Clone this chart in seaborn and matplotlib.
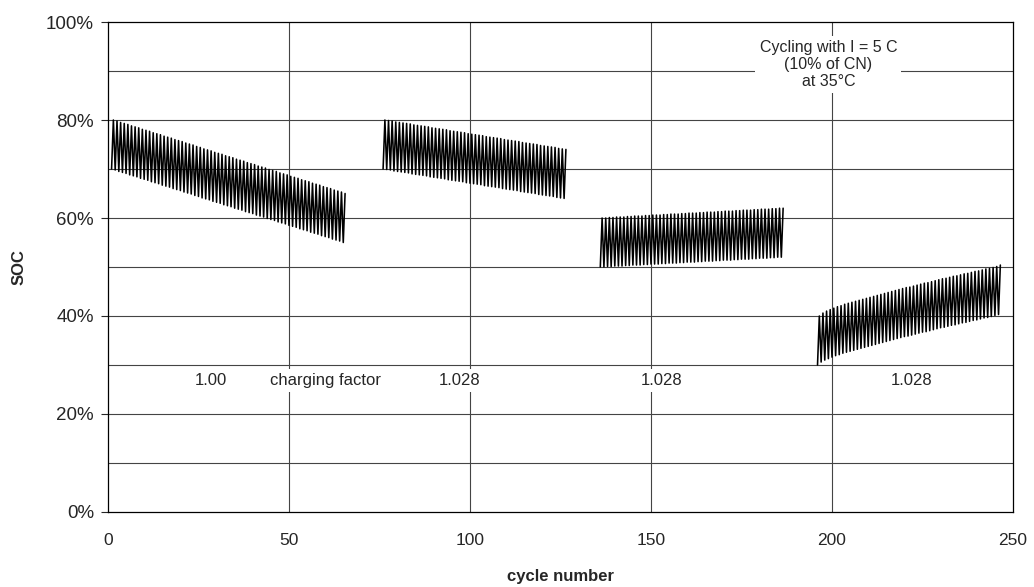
import pandas as pd
import matplotlib.pyplot as plt
import seaborn as sns

# --- data (SOC in %, one low/high pair per cycle) ---
seg1_start = 1
seg1_low = [70.0, 69.8, 69.5, 69.3, 69.1, 68.8, 68.6, 68.4, 68.1, 67.9,
            67.7, 67.4, 67.2, 67.0, 66.7, 66.5, 66.3, 66.0, 65.8, 65.6,
            65.3, 65.1, 64.9, 64.6, 64.4, 64.1, 63.9, 63.7, 63.4, 63.2,
            63.0, 62.7, 62.5, 62.3, 62.0, 61.8, 61.6, 61.3, 61.1, 60.9,
            60.6, 60.4, 60.2, 59.9, 59.7, 59.5, 59.2, 59.0, 58.8, 58.5,
            58.3, 58.1, 57.8, 57.6, 57.4, 57.1, 56.9, 56.7, 56.4, 56.2,
            56.0, 55.7, 55.5, 55.3, 55.0]
seg1_high = [80.0, 79.8, 79.5, 79.3, 79.1, 78.8, 78.6, 78.4, 78.1, 77.9,
             77.7, 77.4, 77.2, 77.0, 76.7, 76.5, 76.3, 76.0, 75.8, 75.6,
             75.3, 75.1, 74.9, 74.6, 74.4, 74.1, 73.9, 73.7, 73.4, 73.2,
             73.0, 72.7, 72.5, 72.3, 72.0, 71.8, 71.6, 71.3, 71.1, 70.9,
             70.6, 70.4, 70.2, 69.9, 69.7, 69.5, 69.2, 69.0, 68.8, 68.5,
             68.3, 68.1, 67.8, 67.6, 67.4, 67.1, 66.9, 66.7, 66.4, 66.2,
             66.0, 65.7, 65.5, 65.3, 65.0]

seg2_start = 76
seg2_low = [70.0, 69.9, 69.8, 69.6, 69.5, 69.4, 69.3, 69.2, 69.0, 68.9,
            68.8, 68.7, 68.6, 68.4, 68.3, 68.2, 68.1, 68.0, 67.8, 67.7,
            67.6, 67.5, 67.4, 67.2, 67.1, 67.0, 66.9, 66.8, 66.6, 66.5,
            66.4, 66.3, 66.2, 66.0, 65.9, 65.8, 65.7, 65.6, 65.4, 65.3,
            65.2, 65.1, 65.0, 64.8, 64.7, 64.6, 64.5, 64.4, 64.2, 64.1,
            64.0]
seg2_high = [80.0, 79.9, 79.8, 79.6, 79.5, 79.4, 79.3, 79.2, 79.0, 78.9,
             78.8, 78.7, 78.6, 78.4, 78.3, 78.2, 78.1, 78.0, 77.8, 77.7,
             77.6, 77.5, 77.4, 77.2, 77.1, 77.0, 76.9, 76.8, 76.6, 76.5,
             76.4, 76.3, 76.2, 76.0, 75.9, 75.8, 75.7, 75.6, 75.4, 75.3,
             75.2, 75.1, 75.0, 74.8, 74.7, 74.6, 74.5, 74.4, 74.2, 74.1,
             74.0]

seg3_start = 136
seg3_low = [50.0, 50.0, 50.1, 50.1, 50.2, 50.2, 50.2, 50.3, 50.3, 50.4,
            50.4, 50.4, 50.5, 50.5, 50.6, 50.6, 50.6, 50.7, 50.7, 50.8,
            50.8, 50.8, 50.9, 50.9, 51.0, 51.0, 51.0, 51.1, 51.1, 51.2,
            51.2, 51.2, 51.3, 51.3, 51.4, 51.4, 51.4, 51.5, 51.5, 51.6,
            51.6, 51.6, 51.7, 51.7, 51.8, 51.8, 51.8, 51.9, 51.9, 52.0,
            52.0]
seg3_high = [60.0, 60.0, 60.1, 60.1, 60.2, 60.2, 60.2, 60.3, 60.3, 60.4,
             60.4, 60.4, 60.5, 60.5, 60.6, 60.6, 60.6, 60.7, 60.7, 60.8,
             60.8, 60.8, 60.9, 60.9, 61.0, 61.0, 61.0, 61.1, 61.1, 61.2,
             61.2, 61.2, 61.3, 61.3, 61.4, 61.4, 61.4, 61.5, 61.5, 61.6,
             61.6, 61.6, 61.7, 61.7, 61.8, 61.8, 61.8, 61.9, 61.9, 62.0,
             62.0]

seg4_start = 196
seg4_low = [30.0, 30.6, 31.0, 31.3, 31.6, 31.9, 32.1, 32.4, 32.6, 32.8,
            33.0, 33.2, 33.4, 33.6, 33.8, 34.0, 34.2, 34.4, 34.6, 34.8,
            35.0, 35.2, 35.4, 35.6, 35.8, 35.9, 36.1, 36.3, 36.5, 36.7,
            36.8, 37.0, 37.2, 37.4, 37.6, 37.7, 37.9, 38.1, 38.2, 38.4,
            38.6, 38.7, 38.9, 39.1, 39.2, 39.4, 39.6, 39.7, 39.9, 40.1,
            40.3]
seg4_high = [40.0, 40.6, 41.0, 41.3, 41.6, 41.9, 42.1, 42.4, 42.6, 42.8,
             43.0, 43.2, 43.4, 43.6, 43.8, 44.0, 44.2, 44.4, 44.6, 44.8,
             45.0, 45.2, 45.4, 45.6, 45.8, 45.9, 46.1, 46.3, 46.5, 46.7,
             46.8, 47.0, 47.2, 47.4, 47.6, 47.7, 47.9, 48.1, 48.2, 48.4,
             48.6, 48.7, 48.9, 49.1, 49.2, 49.4, 49.6, 49.7, 49.9, 50.1,
             50.4]

factor_labels = ["1.00", "1.028", "1.028", "1.028"]
factor_x = [28.5, 97, 153, 222]
y_ticks = [0, 20, 40, 60, 80, 100]
x_ticks = [0, 50, 100, 150, 200, 250]

segments = [
    (seg1_start, seg1_low, seg1_high),
    (seg2_start, seg2_low, seg2_high),
    (seg3_start, seg3_low, seg3_high),
    (seg4_start, seg4_low, seg4_high),
]

# build the long table: each cycle = end of discharge, then end of charge
rows = []
for k, (start, lows, highs) in enumerate(segments):
    for i, (lo, hi) in enumerate(zip(lows, highs)):
        c = start + i
        rows.append({"segment": k, "cycle": c, "soc": lo})
        rows.append({"segment": k, "cycle": c + 0.5, "soc": hi})
df = pd.DataFrame(rows)

sns.set_style("white")
plt.rcParams["font.family"] = ["Liberation Sans", "DejaVu Sans"]

fig = plt.figure(figsize=(10.34, 5.87), dpi=100)
ax = fig.add_axes([0.1044, 0.1278, 0.8753, 0.8347])

# grid first so the text boxes can cover it
for yv in range(10, 100, 10):
    ax.axhline(yv, color="#444444", lw=0.8, zorder=0)
for xv in x_ticks[1:-1]:
    ax.axvline(xv, color="#444444", lw=0.8, zorder=0)

sns.lineplot(data=df, x="cycle", y="soc", units="segment", estimator=None,
             color="black", lw=1.15, sort=False, legend=False, ax=ax, zorder=2)

ax.set_xlim(0, 250)
ax.set_ylim(0, 100)
ax.set_xticks(x_ticks)
ax.set_yticks(y_ticks)
ax.set_yticklabels([f"{v}%" for v in y_ticks])
ax.tick_params(axis="y", direction="out", length=5, width=0.8, pad=5, labelsize=13.5, left=True)
ax.tick_params(axis="x", direction="out", length=0, pad=15, labelsize=12.5)
for s in ax.spines.values():
    s.set_color("black")
    s.set_linewidth(0.9)

ax.set_xlabel("cycle number", fontsize=12, fontweight="bold", labelpad=15)
ax.set_ylabel("SOC", fontsize=12, fontweight="bold", labelpad=14)

box = dict(facecolor="white", edgecolor="none", pad=3)
ax.text(199, 91.3, "Cycling with I = 5 C\n(10% of CN)\nat 35°C", ha="center", va="center",
        fontsize=11.5, linespacing=1.15, bbox=box, zorder=3)
for lab, xv in zip(factor_labels, factor_x):
    ax.text(xv, 26.8, lab, ha="center", va="center", fontsize=12, bbox=box, zorder=3)
ax.text(60, 26.8, "charging factor", ha="center", va="center", fontsize=12, bbox=box, zorder=3)

fig.savefig("out.png", dpi=100)
